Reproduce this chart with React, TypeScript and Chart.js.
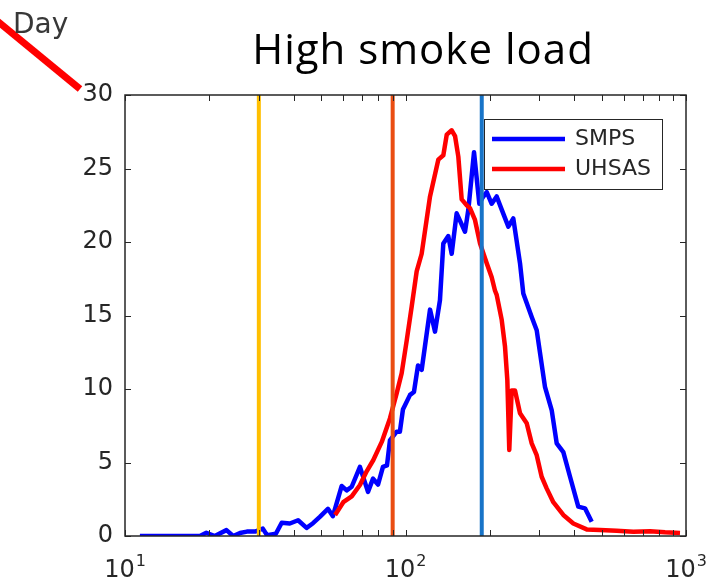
import React, { useEffect, useRef } from "react";
import { Chart, registerables } from "chart.js";

Chart.register(...registerables);

// Particle diameter (nm) and number distribution values for each instrument
const smpsDiameter = [
  11.3, 13.3, 15.7, 18.5, 19.5, 20.9, 23.0, 24.3, 25.7, 27.2, 29.1, 31.0, 32.1, 34.5,
  36.2, 38.7, 41.4, 44.4, 46.8, 49.5, 52.9, 55.1, 59.2, 61.7, 64.3, 68.8, 73.5, 76.6,
  79.8, 83.1, 85.9, 88.0, 93.0, 95.5, 97.9, 103.8, 107.2, 110.8, 114.2, 117.3, 122.3,
  127.4, 132.7, 136.4, 142.1, 146.1, 152.2, 163.0, 167.5, 175.5, 183.3, 188.0, 194.8,
  202.9, 211.4, 220.3, 232.6, 242.3, 256.0, 263.0, 281.8, 293.6, 314.2, 332.0, 346.0,
  365.3, 386.0, 413.0, 436.5, 461.1,
];
const smpsValues = [
  0, 0, 0, 0, 0.22, 0, 0.4, 0, 0.2, 0.3, 0.3, 0.5, 0.05, 0.15,
  0.9, 0.85, 1.07, 0.55, 0.87, 1.3, 1.85, 1.35, 3.4, 3.1, 3.35, 4.7, 3.0, 3.9,
  3.5, 4.7, 4.8, 6.5, 7.1, 7.1, 8.6, 9.6, 9.8, 11.6, 11.3, 12.9, 15.4,
  13.9, 16.05, 19.9, 20.4, 19.2, 21.95, 20.7, 22.2, 26.1, 22.6, 23.0, 23.4,
  22.6, 23.1, 22.2, 21.05, 21.6, 18.55, 16.5, 14.9, 14.0, 10.15, 8.57, 6.3,
  5.7, 4.03, 2.0, 1.88, 0.97,
];

const uhsasDiameter = [
  56.1, 60.0, 64.3, 68.8, 72.7, 76.8, 82.3, 88.0, 93.0, 96.9, 101.0, 105.2, 109.6,
  114.2, 122.3, 130.9, 136.4, 140.3, 146.1, 150.2, 154.3, 158.6, 165.3, 169.8, 176.9,
  184.4, 194.8, 202.9, 208.4, 211.4, 220.3, 226.3, 230.7, 234.4, 239.1, 245.7, 256.0,
  270.5, 281.8, 293.6, 305.8, 318.6, 336.5, 365.3, 396.6, 442.6, 493.6, 566.2, 648.9,
  744.0, 841.8, 952.0,
];
const uhsasValues = [
  1.43, 2.3, 2.7, 3.47, 4.4, 5.17, 6.4, 8.0, 9.7, 11.07, 13.3, 15.6, 18.0,
  19.2, 23.1, 25.6, 25.9, 27.3, 27.6, 27.2, 25.8, 22.9, 22.5, 22.3, 21.5,
  19.9, 18.55, 17.6, 16.7, 16.4, 14.7, 12.9, 10.6, 5.85, 9.9, 9.9, 8.35,
  7.67, 6.3, 5.5, 4.03, 3.24, 2.3, 1.43, 0.85, 0.45, 0.4, 0.35, 0.29,
  0.33, 0.25, 0.2,
];

// Reference diameters marked by vertical lines
const markerDiameters = [30, 90, 187];
const markerColors = ["#FFBF00", "#EA4D12", "#1874C8"];

const seriesNames = ["SMPS", "UHSAS"];
const seriesColors = ["#0000FF", "#FF0000"];

const xMajorTicks = [10, 100, 1000];
const xMinorTicks = [20, 30, 40, 50, 60, 70, 80, 90, 200, 300, 400, 500, 600, 700, 800, 900];
const yTicks = [0, 5, 10, 15, 20, 25, 30];

const titleText = "High smoke load";
const cornerText = "Day";

const AXIS_COLOR = "#262626";
const TICK_FONT = "24px 'DejaVu Sans'";

const decorPlugin = {
  id: "decor",
  afterDraw(chart: any) {
    const { ctx, chartArea: a, scales } = chart;
    const xs = scales.x;
    const ys = scales.y;
    ctx.save();

    // axes box
    ctx.strokeStyle = AXIS_COLOR;
    ctx.lineWidth = 1.5;
    ctx.strokeRect(a.left, a.top, a.right - a.left, a.bottom - a.top);

    // inward tick marks
    const tl = 6;
    ctx.lineWidth = 1;
    ctx.beginPath();
    for (const t of xs.ticks) {
      const px = Math.round(xs.getPixelForValue(t.value)) + 0.5;
      ctx.moveTo(px, a.bottom);
      ctx.lineTo(px, a.bottom - tl);
      ctx.moveTo(px, a.top);
      ctx.lineTo(px, a.top + tl);
    }
    for (const t of ys.ticks) {
      const py = Math.round(ys.getPixelForValue(t.value)) + 0.5;
      ctx.moveTo(a.left, py);
      ctx.lineTo(a.left + tl, py);
      ctx.moveTo(a.right, py);
      ctx.lineTo(a.right - tl, py);
    }
    ctx.stroke();

    // x tick labels as powers of ten
    ctx.fillStyle = AXIS_COLOR;
    ctx.textBaseline = "alphabetic";
    ctx.textAlign = "left";
    for (const v of xMajorTicks) {
      const px = xs.getPixelForValue(v);
      const exp = String(Math.round(Math.log10(v)));
      ctx.font = TICK_FONT;
      const wb = ctx.measureText("10").width;
      ctx.font = "16px 'DejaVu Sans'";
      const we = ctx.measureText(exp).width;
      const x0 = px - (wb + we + 1) / 2;
      ctx.font = TICK_FONT;
      ctx.fillText("10", x0, 577);
      ctx.font = "16px 'DejaVu Sans'";
      ctx.fillText(exp, x0 + wb + 1, 566);
    }

    // title
    ctx.fillStyle = "#000000";
    ctx.font = "42px 'Open Sans'";
    ctx.textAlign = "center";
    (ctx as any).letterSpacing = "1px";
    ctx.fillText(titleText, 423, 64);
    (ctx as any).letterSpacing = "0px";

    // corner decoration
    ctx.strokeStyle = "#FF0000";
    ctx.lineWidth = 7;
    ctx.lineCap = "butt";
    ctx.beginPath();
    ctx.moveTo(-4, 20);
    ctx.lineTo(80, 89);
    ctx.stroke();
    ctx.fillStyle = "#383838";
    ctx.font = "28px 'DejaVu Sans'";
    ctx.textAlign = "left";
    ctx.fillText(cornerText, 13, 33);

    // legend
    const lx = 484, ly = 119, lw = 178, lh = 70;
    ctx.fillStyle = "#FFFFFF";
    ctx.fillRect(lx, ly, lw, lh);
    ctx.strokeStyle = AXIS_COLOR;
    ctx.lineWidth = 1;
    ctx.strokeRect(lx + 0.5, ly + 0.5, lw, lh);
    ctx.font = "22px 'DejaVu Sans'";
    ctx.textBaseline = "middle";
    seriesNames.forEach((name, i) => {
      const y = ly + 20 + i * 30;
      ctx.strokeStyle = seriesColors[i];
      ctx.lineWidth = 4.5;
      ctx.beginPath();
      ctx.moveTo(lx + 8, y);
      ctx.lineTo(lx + 81, y);
      ctx.stroke();
      ctx.fillStyle = AXIS_COLOR;
      ctx.fillText(name, lx + 91, y);
    });

    ctx.restore();
  },
};

export default function App() {
  const canvasRef = useRef<HTMLCanvasElement | null>(null);

  useEffect(() => {
    const canvas = canvasRef.current;
    if (!canvas) return;

    const markerSets = markerDiameters.map((d, i) => ({
      label: "marker" + i,
      data: [
        { x: d, y: 0 },
        { x: d, y: 30 },
      ],
      borderColor: markerColors[i],
      borderWidth: 4,
      pointRadius: 0,
      fill: false,
    }));

    const smps = smpsDiameter.map((d, i) => ({ x: d, y: smpsValues[i] }));
    const uhsas = uhsasDiameter.map((d, i) => ({ x: d, y: uhsasValues[i] }));

    const chart = new Chart(canvas, {
      type: "line",
      data: {
        datasets: [
          ...markerSets,
          {
            label: seriesNames[1],
            data: uhsas,
            borderColor: seriesColors[1],
            borderWidth: 4.5,
            pointRadius: 0,
            borderJoinStyle: "round",
            fill: false,
          },
          {
            label: seriesNames[0],
            data: smps,
            borderColor: seriesColors[0],
            borderWidth: 4.5,
            pointRadius: 0,
            borderJoinStyle: "round",
            fill: false,
          },
        ] as any,
      },
      options: {
        animation: false,
        responsive: false,
        devicePixelRatio: 1,
        layout: { padding: { top: 95, right: 24, left: 0, bottom: 0 } },
        plugins: {
          legend: { display: false },
          title: { display: false },
          tooltip: { enabled: false },
        },
        scales: {
          x: {
            type: "logarithmic",
            min: 10,
            max: 1000,
            afterBuildTicks: (s: any) => {
              s.ticks = [...xMajorTicks, ...xMinorTicks]
                .sort((p, q) => p - q)
                .map((v) => ({ value: v, major: xMajorTicks.includes(v) }));
            },
            afterFit: (s: any) => {
              s.height = 46;
            },
            grid: { display: false, drawTicks: false },
            border: { display: false },
            ticks: { display: false },
          },
          y: {
            type: "linear",
            min: 0,
            max: 30,
            afterBuildTicks: (s: any) => {
              s.ticks = yTicks.map((v) => ({ value: v }));
            },
            afterFit: (s: any) => {
              s.width = 125;
            },
            grid: { display: false, drawTicks: false },
            border: { display: false },
            ticks: {
              padding: 12,
              color: AXIS_COLOR,
              font: { family: "DejaVu Sans", size: 24 },
            },
          },
        },
      } as any,
      plugins: [decorPlugin],
    });

    return () => chart.destroy();
  }, []);

  return (
    <div style={{ position: "absolute", left: 0, top: 0, width: 710, height: 582, background: "#FFFFFF" }}>
      <canvas ref={canvasRef} width={710} height={582} />
    </div>
  );
}
